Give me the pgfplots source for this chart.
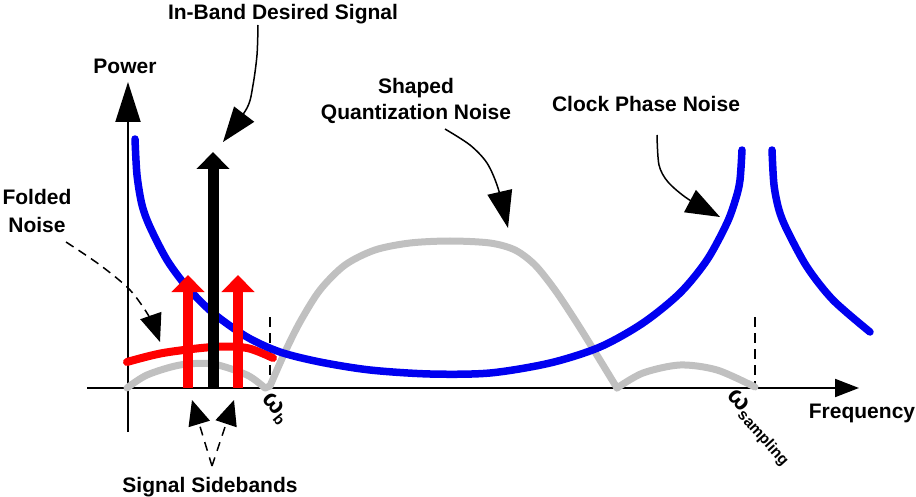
\documentclass[border=0pt]{standalone}
\usepackage{fontspec}
\setmainfont{Liberation Sans}
\usepackage{pgfplots}
\pgfplotsset{compat=1.18}
\usetikzlibrary{arrows.meta}
\definecolor{qgray}{RGB}{192,192,192}
\definecolor{pblue}{RGB}{0,0,240}
\tikzset{lbl/.style={font=\fontsize{21}{25}\selectfont\bfseries,inner sep=0pt}}
\begin{document}
\begin{tikzpicture}
\begin{axis}[x=1pt,y=1pt,xmin=0,xmax=916,ymin=0,ymax=497,y dir=reverse,
  hide axis,clip=false,scale only axis]
% axes
\addplot[black,line width=2pt,no marks,-{Triangle[width=25pt,length=40pt]}] coordinates {(128,432) (128,82)};
\addplot[black,line width=2pt,no marks,-{Triangle[width=18pt,length=24pt]}] coordinates {(87,388) (859,388)};
% dashed markers
\addplot[black,line width=1.5pt,no marks,dash pattern=on 10pt off 6pt] coordinates {(270,317) (270,388)};
\addplot[black,line width=1.5pt,no marks,dash pattern=on 10pt off 6pt] coordinates {(755,317) (755,388)};
% gray quantization noise
\addplot[qgray,line width=7pt,no marks,smooth,line cap=round,line join=round] coordinates {(127,388) (147,375) (180,365) (213,364) (247,375) (265,388)};
\addplot[qgray,line width=7pt,no marks,line cap=round,line join=round] coordinates {(265,388) (270,386)};
\addplot[qgray,line width=7pt,no marks,smooth,line cap=round,line join=round] coordinates {(270,386) (285,352) (300,322) (320,290) (345,265) (375,250) (410,243) (450,241) (490,243) (515,250) (535,265) (555,290) (575,320) (595,352) (617,388)};
\addplot[qgray,line width=7pt,no marks,smooth,line cap=round,line join=round] coordinates {(617,388) (643,373) (680,365) (717,370) (755,387)};
% red folded noise
\addplot[red,line width=8pt,no marks,smooth,line cap=round] coordinates {(127,362) (163,353) (213,347) (247,348) (273,358)};
% blue clock phase noise
\addplot[pblue,line width=7.5pt,no marks,smooth,line cap=round] coordinates {(135,139) (137,175) (142,205) (150,227) (167,260) (187,287) (213,313) (247,337) (280,352) (320,362) (370,370) (430,374) (490,373) (550,363) (600,347) (643,323) (680,293) (707,260) (727,223) (736,198) (740,180) (742,150)};
\addplot[pblue,line width=7.5pt,no marks,smooth,line cap=round] coordinates {(772,150) (774,185) (779,210) (787,230) (807,267) (833,300) (870,332)};
% sideband arrows
\addplot[red,line width=10pt,no marks,-{Triangle[width=32pt,length=17pt]}] coordinates {(188,388) (188,275)};
\addplot[red,line width=10pt,no marks,-{Triangle[width=32pt,length=17pt]}] coordinates {(238,388) (238,275)};
% desired signal
\addplot[black,line width=11pt,no marks,-{Triangle[width=32pt,length=17pt]}] coordinates {(213,388) (213,152)};
% annotation arrows
\addplot[black,line width=1.5pt,no marks,smooth,-{Triangle[width=25pt,length=35pt]}] coordinates {(258,25) (257,55) (253,85) (247,108) (223,142)};
\addplot[black,line width=1.5pt,no marks,smooth,-{Triangle[width=25pt,length=37pt]}] coordinates {(445,129) (470,145) (487,163) (498,188) (508,228)};
\addplot[black,line width=1.5pt,no marks,smooth,-{Triangle[width=25pt,length=34pt]}] coordinates {(657,135) (659,165) (668,182) (688,199) (720,217)};
\addplot[black,line width=1.5pt,no marks,smooth,dash pattern=on 9pt off 6pt,-{Triangle[width=22pt,length=28pt]}] coordinates {(66,242) (100,265) (130,290) (150,318) (160,342)};
\addplot[black,line width=1.5pt,no marks,dash pattern=on 9pt off 7pt,-{Triangle[width=22pt,length=25pt]}] coordinates {(212,466) (192,400)};
\addplot[black,line width=1.5pt,no marks,dash pattern=on 9pt off 7pt,-{Triangle[width=22pt,length=25pt]}] coordinates {(212,466) (234,400)};
% labels
\node[lbl] at (axis cs:283,14) {In-Band Desired Signal};
\node[lbl] at (axis cs:125,66) {Power};
\node[lbl] at (axis cs:416,88) {Shaped};
\node[lbl] at (axis cs:416,114) {Quantization Noise};
\node[lbl] at (axis cs:646,104) {Clock Phase Noise};
\node[lbl] at (axis cs:37,197) {Folded};
\node[lbl] at (axis cs:37,225) {Noise};
\node[lbl] at (axis cs:862,413) {Frequency};
\node[lbl] at (axis cs:210,487) {Signal Sidebands};
\node[rotate=-50,anchor=west,inner sep=0pt,font=\fontsize{26}{30}\selectfont\bfseries] at (axis cs:265,396) {ω\raisebox{-5pt}{\fontsize{15}{17}\selectfont b}};
\node[rotate=-48,anchor=west,inner sep=0pt,font=\fontsize{26}{30}\selectfont\bfseries] at (axis cs:728,394) {ω\raisebox{-5pt}{\fontsize{15.5}{18}\selectfont sampling}};
\end{axis}
\pgfresetboundingbox
\useasboundingbox (current axis.south west) rectangle (current axis.north east);
\end{tikzpicture}
\end{document}
